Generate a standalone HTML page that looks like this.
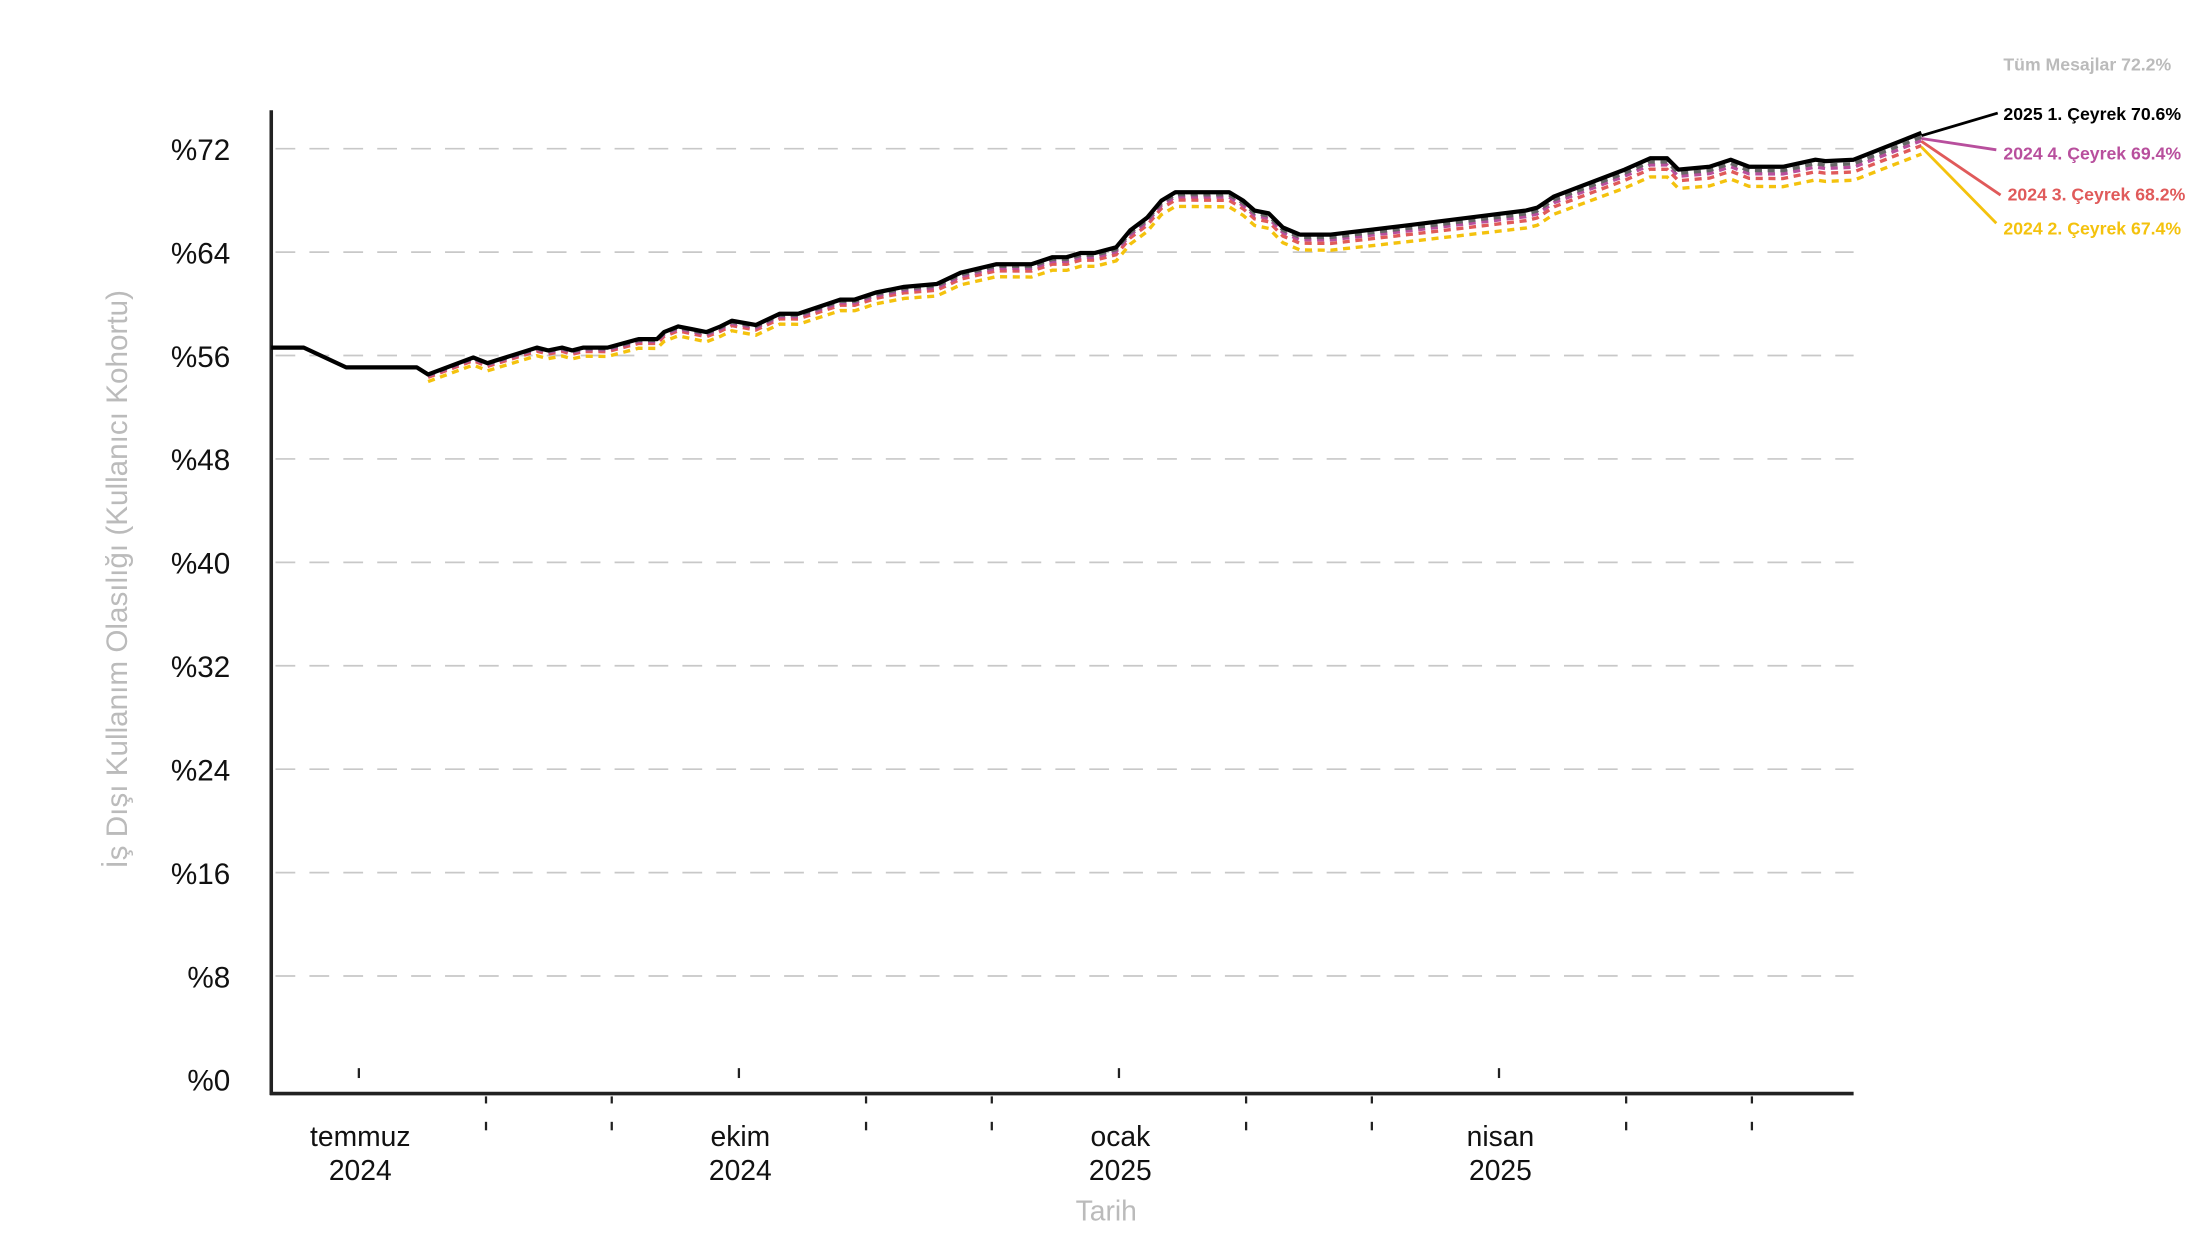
<!DOCTYPE html>
<html><head><meta charset="utf-8"><style>
html,body{margin:0;padding:0;background:#fff;}
svg{display:block;font-family:"Liberation Sans",sans-serif;}
</style></head><body>
<svg id="s" width="2204" height="1240" viewBox="0 0 1560 877.6" xmlns="http://www.w3.org/2000/svg">
<g id="grid" stroke="#c8c8c8" stroke-width="1.2" stroke-dasharray="14,10"></g>
<g id="ylab" font-size="21" text-anchor="end" fill="#111"></g>
<line x1="192" y1="78" x2="192" y2="775" stroke="#222" stroke-width="2.5"/>
<line x1="191" y1="774" x2="1312" y2="774" stroke="#222" stroke-width="2.5"/>
<g id="ticks" stroke="#222" stroke-width="1.6"></g>
<g font-size="20" text-anchor="middle" fill="#111">
<text x="255" y="811">temmuz</text><text x="255" y="835">2024</text>
<text x="524" y="811">ekim</text><text x="524" y="835">2024</text>
<text x="793" y="811">ocak</text><text x="793" y="835">2025</text>
<text x="1062" y="811">nisan</text><text x="1062" y="835">2025</text>
</g>
<text x="783" y="864" font-size="20" fill="#bbb" text-anchor="middle">Tarih</text>
<text transform="translate(90,410) rotate(-90)" font-size="21" fill="#bbb" text-anchor="middle">İş Dışı Kullanım Olasılığı (Kullanıcı Kohortu)</text>
<g id="lines" fill="none"></g>
<g stroke-width="2">
<line x1="1360" y1="96" x2="1414" y2="80" stroke="#000"/>
<line x1="1360" y1="98" x2="1413" y2="106" stroke="#b84f9d"/>
<line x1="1360" y1="100" x2="1416" y2="138" stroke="#e05a5a"/>
<line x1="1360" y1="104" x2="1413" y2="158" stroke="#f4c20d"/>
</g>
<g font-size="12.5" font-weight="bold">
<text x="1418" y="50" fill="#bbb">Tüm Mesajlar 72.2%</text>
<text x="1418" y="85" fill="#000">2025 1. Çeyrek 70.6%</text>
<text x="1418" y="113" fill="#b84f9d">2024 4. Çeyrek 69.4%</text>
<text x="1421" y="142" fill="#e05a5a">2024 3. Çeyrek 68.2%</text>
<text x="1418" y="166" fill="#f4c20d">2024 2. Çeyrek 67.4%</text>
</g>
</svg>
<script>
var NS="http://www.w3.org/2000/svg";
function el(p,t,a){var e=document.createElementNS(NS,t);for(var k in a)e.setAttribute(k,a[k]);document.getElementById(p).appendChild(e);return e;}
for(var i=0;i<=9;i++){var v=i*8,y=764-9.15*v;
 if(i>0)el("grid","line",{x1:195,y1:y,x2:1312,y2:y});
 var t=el("ylab","text",{x:163,y:y+8});t.textContent="%"+v;}
[254,523,792,1061].forEach(function(x){el("ticks","line",{x1:x,y1:756,x2:x,y2:763});});
[344,433,613,702,882,971,1151,1240].forEach(function(x){el("ticks","line",{x1:x,y1:776,x2:x,y2:781});el("ticks","line",{x1:x,y1:794,x2:x,y2:800});});
var P=[[192,246],[215,246],[245,260],[295,260],[303,265],[335,253],[345,257],[380,246],[388,248],[398,246],[405,248],[413,246],[430,246],[452,240],[465,240],[470,235],[480,231],[490,233],[500,235],[510,231],[518,227],[535,230],[552,222],[565,222],[595,212],[605,212],[620,207],[640,203],[663,201],[680,193],[705,187],[730,187],[745,182],[755,182],[765,179],[775,179],[790,175],[800,163],[812,154],[822,142],[832,136],[870,136],[880,142],[888,149],[898,151],[908,161],[920,166],[942,166],[1000,159],[1080,149],[1088,147],[1100,139],[1150,120],[1168,112],[1180,112],[1188,120],[1210,118],[1225,113],[1238,118],[1262,118],[1285,113],[1292,114],[1312,113],[1360,94]];
function path(off,start){var d="",f=true;P.forEach(function(p){if(p[0]<start)return;var o=off(p[0]);d+=(f?"M":"L")+p[0]+","+(p[1]+o);f=false;});return d;}
function lin(a,b){return function(x){var t=(x-300)/(1360-300);if(t<0)t=0;return a+(b-a)*t;};}
el("lines","path",{d:path(lin(5,15),300),stroke:"#f4c20d","stroke-width":2.4,"stroke-dasharray":"5,4"});
el("lines","path",{d:path(lin(2,9),300),stroke:"#e05a5a","stroke-width":2.4,"stroke-dasharray":"5,4"});
el("lines","path",{d:path(lin(1,5.5),300),stroke:"#b84f9d","stroke-width":2.4,"stroke-dasharray":"5,4"});
el("lines","path",{d:path(lin(0.5,3),300),stroke:"#666","stroke-width":2.4,"stroke-dasharray":"5,4"});
el("lines","path",{d:path(function(){return 0;},0),stroke:"#000","stroke-width":3,"stroke-linejoin":"round"});
</script>
</body></html>
